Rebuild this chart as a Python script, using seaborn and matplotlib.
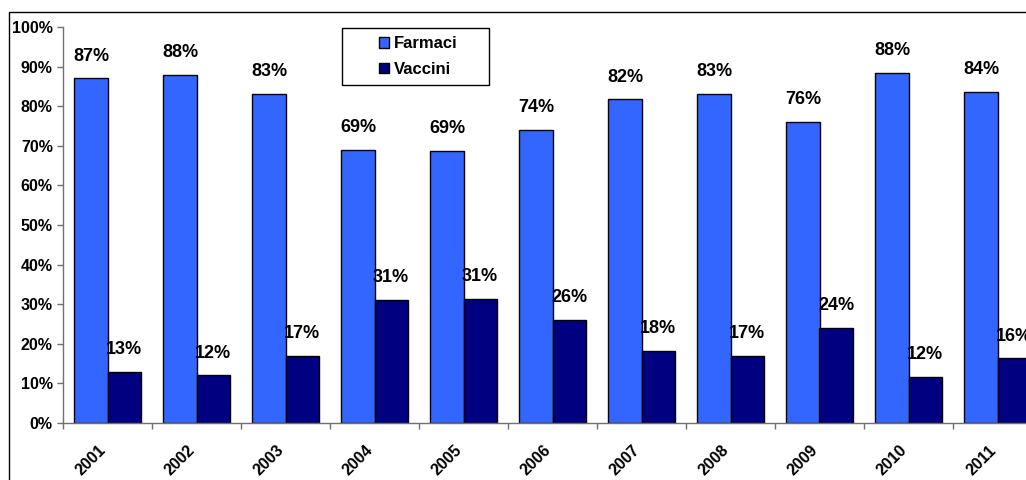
import matplotlib
matplotlib.use("Agg")
import matplotlib.pyplot as plt
import seaborn as sns
import pandas as pd
import numpy as np
from matplotlib.patches import Rectangle
from matplotlib.ticker import PercentFormatter
from matplotlib.transforms import ScaledTranslation

years = ["2001", "2002", "2003", "2004", "2005", "2006", "2007", "2008", "2009", "2010", "2011"]
farmaci = [87.0, 88.0, 83.0, 69.0, 68.7, 74.0, 81.7, 83.0, 76.0, 88.3, 83.7]
vaccini = [13.0, 12.0, 17.0, 31.0, 31.3, 26.0, 18.3, 17.0, 24.0, 11.7, 16.3]
series_names = ["Farmaci", "Vaccini"]
colors = ["#3366FF", "#000080"]

plt.rcParams['font.family'] = ['Liberation Sans', 'DejaVu Sans']
plt.rcParams['font.weight'] = 'bold'

df = pd.DataFrame({
    "Anno": years * 2,
    "Tipo": [series_names[0]] * len(years) + [series_names[1]] * len(years),
    "Valore": farmaci + vaccini,
})

W, H = 1026, 480
fig = plt.figure(figsize=(W / 100, H / 100), dpi=100)
fig.patch.set_facecolor("white")
ax = fig.add_axes([63 / W, 57 / H, 979 / W, 396 / H])

sns.barplot(data=df, x="Anno", y="Valore", hue="Tipo", hue_order=series_names,
            palette=colors, saturation=1, width=0.742, edgecolor="black",
            linewidth=1, ax=ax, errorbar=None)

ax.set_xlim(-0.5, len(years) - 0.5)
ax.set_ylim(0, 100)
ax.set_yticks(np.arange(0, 101, 10))
ax.yaxis.set_major_formatter(PercentFormatter(decimals=0))
ax.set_xlabel("")
ax.set_ylabel("")

for cont, vals in zip(ax.containers, [farmaci, vaccini]):
    ax.bar_label(cont, labels=[f"{v:.0f}%" for v in vals], padding=10,
                 fontsize=13, fontweight="bold", zorder=5)

for s in ["top", "right"]:
    ax.spines[s].set_visible(False)
for s in ["left", "bottom"]:
    ax.spines[s].set_color("#707070")
    ax.spines[s].set_linewidth(1)

ax.tick_params(axis="y", length=4.3, width=1, color="#707070", pad=3, labelsize=11.5)
ax.set_xticks(np.arange(-0.5, len(years), 1), minor=True)
ax.tick_params(axis="x", which="major", length=0, pad=18, labelsize=11.5)
ax.tick_params(axis="x", which="minor", length=4, width=1, color="#707070", direction="out")
shift = ScaledTranslation(-4 / 100, 0, fig.dpi_scale_trans)
for lbl in ax.get_xticklabels():
    lbl.set_rotation(45)
    lbl.set_ha("right")
    lbl.set_va("center")
    lbl.set_rotation_mode("anchor")
    lbl.set_fontweight("bold")
    lbl.set_transform(lbl.get_transform() + shift)
for lbl in ax.get_yticklabels():
    lbl.set_fontweight("bold")

handles, labels = ax.get_legend_handles_labels()
if ax.get_legend() is not None:
    ax.get_legend().remove()
leg = ax.legend(handles, labels, loc="center", bbox_to_anchor=(0.363, 0.9255),
                frameon=False, handlelength=0.6, handleheight=0.6,
                handletextpad=0.3, labelspacing=0.65, prop={"weight": "bold", "size": 12})
ax.add_patch(Rectangle((0.285, 0.8535), 0.150, 0.144, transform=ax.transAxes,
                       fill=False, edgecolor="black", linewidth=1, clip_on=False, zorder=6))

fig.add_artist(Rectangle((9 / W, -0.1), 1.2, 0.975 + 0.1, transform=fig.transFigure,
                         fill=False, edgecolor="black", linewidth=1, clip_on=False))

fig.savefig("out.png", dpi=100)
